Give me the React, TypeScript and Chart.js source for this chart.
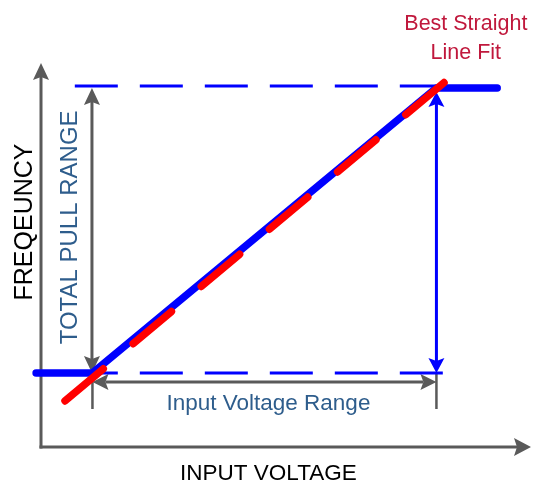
import React, { useEffect, useRef } from "react";
import { Chart, registerables } from "chart.js";

Chart.register(...registerables);

// ---- data (arbitrary units: input voltage 0..10, frequency 0..10) ----
const voltageRange = [1.05, 8.07]; // input voltage range ends
const frequencyRange = [1.93, 9.35]; // total pull range ends
const responseVoltage = [-0.1, 1.05, 8.07, 9.31];
const responseFrequency = [1.93, 1.93, 9.35, 9.35];
const fitVoltage = [0.49, 8.29];
const fitFrequency = [1.2, 9.56];
const guideVoltage = [0.69, 8.31];
const axisTitles = ["INPUT VOLTAGE", "FREQEUNCY"];
const rangeLabels = ["TOTAL PULL RANGE", "Input Voltage Range"];
const fitLabel = ["Best Straight", "Line Fit"];

const GREY = "#5a5a5a";
const BLUE = "#0000ff";
const RED = "#ff0000";
const TEXT_BLUE = "#2e5d8c";
const CRIMSON = "#c0183c";
const FONT = '"Liberation Sans", Arial, sans-serif';

function head(ctx: CanvasRenderingContext2D, tx: number, ty: number, dx: number, dy: number, len: number, half: number, notch: number, color: string) {
  const bx = tx - dx * len;
  const by = ty - dy * len;
  const px = -dy;
  const py = dx;
  ctx.fillStyle = color;
  ctx.beginPath();
  ctx.moveTo(tx, ty);
  ctx.lineTo(bx + px * half, by + py * half);
  ctx.lineTo(tx - dx * (len - notch), ty - dy * (len - notch));
  ctx.lineTo(bx - px * half, by - py * half);
  ctx.closePath();
  ctx.fill();
}

function arrow(ctx: CanvasRenderingContext2D, x1: number, y1: number, x2: number, y2: number, startHead: boolean, endHead: boolean, color: string, width: number, len: number, half: number) {
  const L = Math.hypot(x2 - x1, y2 - y1);
  const dx = (x2 - x1) / L;
  const dy = (y2 - y1) / L;
  const notch = 3;
  const sx = startHead ? x1 + dx * (len - notch) : x1;
  const sy = startHead ? y1 + dy * (len - notch) : y1;
  const ex = endHead ? x2 - dx * (len - notch) : x2;
  const ey = endHead ? y2 - dy * (len - notch) : y2;
  ctx.strokeStyle = color;
  ctx.lineWidth = width;
  ctx.lineCap = "butt";
  ctx.setLineDash([]);
  ctx.beginPath();
  ctx.moveTo(sx, sy);
  ctx.lineTo(ex, ey);
  ctx.stroke();
  if (endHead) head(ctx, x2, y2, dx, dy, len, half, notch, color);
  if (startHead) head(ctx, x1, y1, -dx, -dy, len, half, notch, color);
}

const annotations = {
  id: "annotations",
  beforeDatasetsDraw(chart: any) {
    const { ctx, scales } = chart;
    const X = (v: number) => scales.x.getPixelForValue(v);
    const Y = (v: number) => scales.y.getPixelForValue(v);
    ctx.save();
    // axes
    arrow(ctx, X(0), Y(0) + 1.5, X(0), Y(10), false, true, GREY, 3, 17, 8);
    arrow(ctx, X(0) - 1.5, Y(0), X(10), Y(0), false, true, GREY, 3, 17, 9);
    // total pull range (grey vertical double arrow)
    const pullX = voltageRange[0] - 0.01;
    arrow(ctx, X(pullX), Y(frequencyRange[0]), X(pullX), Y(frequencyRange[1]), true, true, GREY, 3, 17, 8);
    // input voltage range (grey horizontal double arrow) and tick lines
    const rangeY = 1.69;
    ctx.strokeStyle = GREY;
    ctx.lineWidth = 2.5;
    ctx.beginPath();
    for (const v of voltageRange) {
      ctx.moveTo(X(v), Y(frequencyRange[0]));
      ctx.lineTo(X(v), Y(0.99));
    }
    ctx.stroke();
    arrow(ctx, X(voltageRange[0]), Y(rangeY), X(voltageRange[1]), Y(rangeY), true, true, GREY, 3, 16, 8);
    // blue vertical double arrow
    arrow(ctx, X(voltageRange[1]), Y(frequencyRange[0]), X(voltageRange[1]), Y(frequencyRange[1]) + 4, true, true, BLUE, 3, 15, 8);
    ctx.restore();
  },
  afterDraw(chart: any) {
    const { ctx, scales } = chart;
    const X = (v: number) => scales.x.getPixelForValue(v);
    const Y = (v: number) => scales.y.getPixelForValue(v);
    const midV = X((voltageRange[0] + voltageRange[1]) / 2) + 4;
    ctx.save();
    ctx.textBaseline = "alphabetic";
    ctx.textAlign = "center";
    // x axis title
    ctx.fillStyle = "#000000";
    ctx.font = `22.5px ${FONT}`;
    ctx.fillText(axisTitles[0], midV, Y(0) + 33);
    // y axis title
    ctx.save();
    ctx.translate(X(0) - 9, Y(5.86));
    ctx.rotate(-Math.PI / 2);
    ctx.font = `25px ${FONT}`;
    ctx.fillText(axisTitles[1], 0, 0);
    ctx.restore();
    // total pull range
    ctx.save();
    ctx.fillStyle = TEXT_BLUE;
    ctx.translate(X(0.73), Y(5.72));
    ctx.rotate(-Math.PI / 2);
    ctx.font = `24px ${FONT}`;
    ctx.fillText(rangeLabels[0], 0, 0);
    ctx.restore();
    // input voltage range
    ctx.fillStyle = TEXT_BLUE;
    ctx.font = `22.5px ${FONT}`;
    ctx.fillText(rangeLabels[1], midV, Y(1.69) + 28);
    // best straight line fit
    ctx.fillStyle = CRIMSON;
    ctx.font = `21.5px ${FONT}`;
    ctx.fillText(fitLabel[0], X(8.67), Y(10.86));
    ctx.fillText(fitLabel[1], X(8.67), Y(10.1));
    ctx.restore();
  },
};

export default function App() {
  const ref = useRef<HTMLCanvasElement | null>(null);
  useEffect(() => {
    document.body.style.margin = "0";
    const pts = (xs: number[], ys: number[]) => xs.map((x, i) => ({ x, y: ys[i] }));
    const chart = new Chart(ref.current as HTMLCanvasElement, {
      type: "line",
      data: {
        datasets: [
          {
            label: "Best straight line fit",
            data: pts(fitVoltage, fitFrequency),
            borderColor: RED,
            borderWidth: 7.5,
            borderDash: [50, 39],
            borderCapStyle: "round",
            pointRadius: 0,
            order: 0,
            clip: false,
          } as any,
          {
            label: "Frequency response",
            data: pts(responseVoltage, responseFrequency),
            borderColor: BLUE,
            borderWidth: 7.5,
            borderCapStyle: "round",
            borderJoinStyle: "round",
            pointRadius: 0,
            order: 1,
            clip: false,
          } as any,
          {
            label: "Upper limit",
            data: pts(guideVoltage, [frequencyRange[1] + 0.05, frequencyRange[1] + 0.05]),
            borderColor: BLUE,
            borderWidth: 3,
            borderDash: [43, 22],
            pointRadius: 0,
            order: 2,
            clip: false,
          } as any,
          {
            label: "Lower limit",
            data: pts(guideVoltage, [frequencyRange[0], frequencyRange[0]]),
            borderColor: BLUE,
            borderWidth: 3,
            borderDash: [43, 22],
            pointRadius: 0,
            order: 2,
            clip: false,
          } as any,
        ],
      },
      options: {
        responsive: false,
        animation: false,
        events: [],
        layout: { padding: { left: 41, right: 2, top: 63, bottom: 38 } },
        elements: { line: { tension: 0 } },
        plugins: { legend: { display: false }, tooltip: { enabled: false } },
        scales: {
          x: { type: "linear", min: 0, max: 10, display: false },
          y: { type: "linear", min: 0, max: 10, display: false },
        },
      },
      plugins: [annotations],
    });
    return () => chart.destroy();
  }, []);
  return <canvas ref={ref} width={533} height={485} style={{ display: "block" }} />;
}
